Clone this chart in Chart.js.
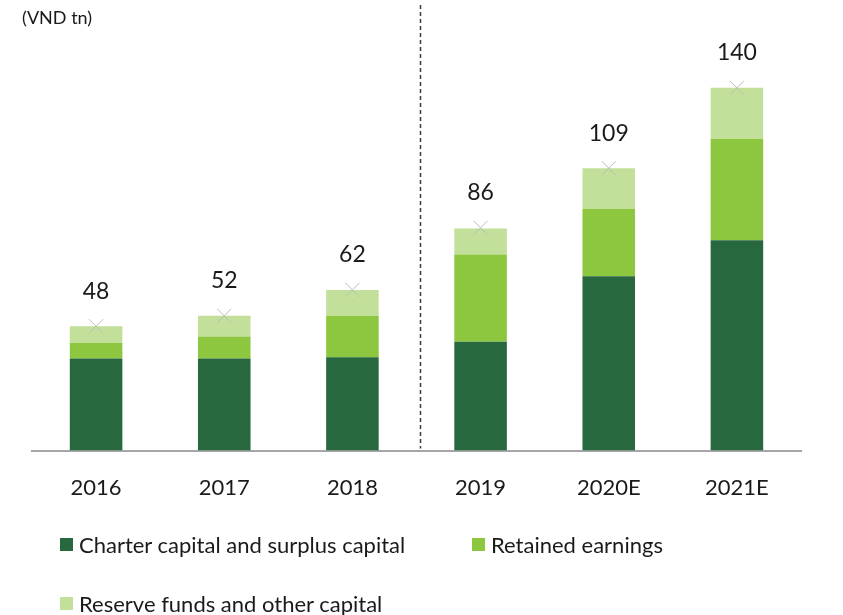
<!DOCTYPE html>
<html>
<head>
<meta charset="utf-8">
<script src="https://cdn.jsdelivr.net/npm/chart.js@4"></script>
<style>
  body { margin: 0; background: #fff; font-family: Lato, "Open Sans", sans-serif; }
  #wrap { position: relative; width: 843px; height: 615px; }
  #legend { position: absolute; left: 0; top: 0; width: 843px; height: 615px; pointer-events: none; }
  .item { position: absolute; display: flex; align-items: center; font-size: 22px; color: #1a1a1a; white-space: nowrap; }
  .box { width: 13px; height: 13px; margin-right: 6px; }
</style>
</head>
<body>
<div id="wrap">
  <canvas id="chart" width="843" height="615"></canvas>
  <div id="legend"></div>
</div>
<script>
const years = ['2016', '2017', '2018', '2019', '2020E', '2021E'];
const charterCapital = [35.5, 35.5, 36, 42, 67.3, 81.2];
const retainedEarnings = [6, 8.5, 16, 33.7, 25.9, 39.1];
const reserveFunds = [6.5, 8, 10, 10, 15.8, 19.7];
const totals = [48, 52, 62, 86, 109, 140];

const colors = ['#28683e', '#8dc63f', '#c3e09a'];
const seriesNames = ['Charter capital and surplus capital', 'Retained earnings', 'Reserve funds and other capital'];

const ctx = document.getElementById('chart');

const extras = {
  id: 'extras',
  afterDatasetsDraw(chart) {
    const c = chart.ctx;
    const x = chart.scales.x;
    const area = chart.chartArea;
    c.save();
    // unit label
    c.fillStyle = '#1a1a1a';
    c.font = '18px Lato, "Open Sans", sans-serif';
    c.textBaseline = 'middle';
    c.fillText('(VND tn)', 22, 18);
    // dashed separator between actual and estimates
    const sx = Math.round((x.getPixelForValue(2) + x.getPixelForValue(3)) / 2) + 3.5;
    c.strokeStyle = '#3c3c3c';
    c.lineWidth = 1.5;
    c.setLineDash([4, 3]);
    c.beginPath();
    c.moveTo(sx, 5);
    c.lineTo(sx, area.bottom - 2);
    c.stroke();
    c.setLineDash([]);
    // total labels
    const meta = chart.getDatasetMeta(3);
    c.font = '23px Lato, "Open Sans", sans-serif';
    c.textAlign = 'center';
    meta.data.forEach((pt, i) => {
      c.fillText(String(totals[i]), pt.x, pt.y - 35);
    });
    c.restore();
  }
};

new Chart(ctx, {
  type: 'bar',
  data: {
    labels: years,
    datasets: [
      { label: seriesNames[0], data: charterCapital, backgroundColor: colors[0], stack: 's', order: 2 },
      { label: seriesNames[1], data: retainedEarnings, backgroundColor: colors[1], stack: 's', order: 2 },
      { label: seriesNames[2], data: reserveFunds, backgroundColor: colors[2], stack: 's', order: 2 },
      {
        type: 'line',
        label: 'Total',
        data: totals,
        showLine: false,
        pointStyle: 'crossRot',
        pointRadius: 10,
        pointBorderColor: '#bdbdbd',
        pointBorderWidth: 1,
        order: 1
      }
    ]
  },
  options: {
    responsive: false,
    animation: false,
    layout: { padding: { left: 32, right: 42, top: 36, bottom: 90 } },
    datasets: { bar: { categoryPercentage: 1, barPercentage: 0.41 } },
    plugins: { legend: { display: false }, tooltip: { enabled: false } },
    scales: {
      x: {
        stacked: true,
        grid: { display: false, drawTicks: false },
        border: { display: true, color: '#a6a6a6', width: 2 },
        ticks: { color: '#1a1a1a', padding: 24, font: { size: 22, family: 'Lato, "Open Sans", sans-serif' } }
      },
      y: {
        stacked: true,
        display: false,
        min: 0,
        max: 160
      }
    }
  },
  plugins: [extras]
});

// legend
const legend = document.getElementById('legend');
const spots = [[60, 545], [472, 545], [60, 604]];
seriesNames.forEach((name, i) => {
  const el = document.createElement('div');
  el.className = 'item';
  el.style.left = spots[i][0] + 'px';
  el.style.top = (spots[i][1] - 14) + 'px';
  el.innerHTML = '<span class="box" style="background:' + colors[i] + '"></span>' + name;
  legend.appendChild(el);
});
</script>
</body>
</html>
